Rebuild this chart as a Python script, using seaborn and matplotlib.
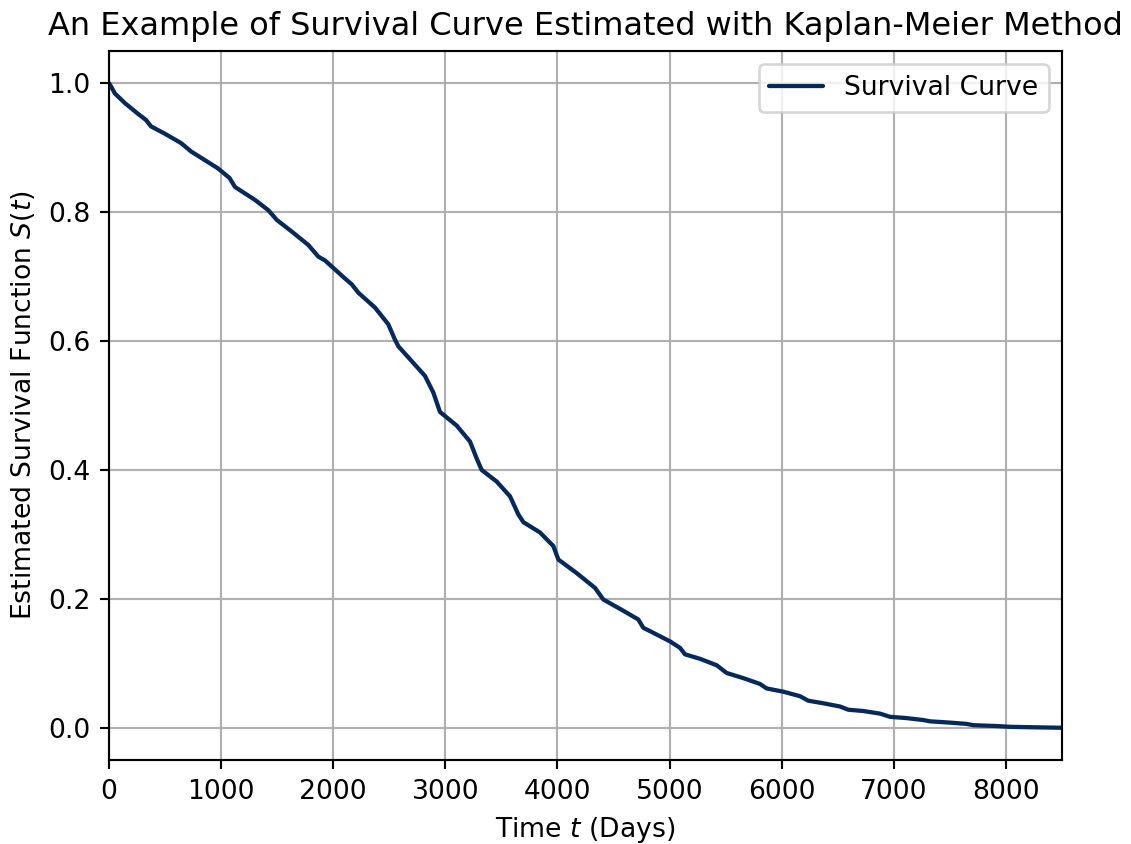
import matplotlib
matplotlib.use("Agg")
import matplotlib.pyplot as plt
import seaborn as sns
import pandas as pd

time_days = [0, 18, 53, 143, 255, 330, 375, 495, 644, 733, 852, 971, 1075, 1124,
             1302, 1421, 1496, 1629, 1778, 1867, 1927, 2105, 2165, 2224, 2372, 2491,
             2551, 2580, 2699, 2818, 2893, 2952, 3100, 3220, 3279, 3324, 3458, 3577,
             3651, 3696, 3844, 3963, 4008, 4171, 4335, 4409, 4573, 4721, 4766, 4825,
             5004, 5093, 5137, 5271, 5420, 5509, 5658, 5806, 5866, 6014, 6163, 6237,
             6371, 6520, 6594, 6728, 6876, 6966, 7114, 7263, 7323, 7501, 7650, 7709,
             7917, 8036, 8241, 8500]
survival = [1.0, 0.995, 0.984, 0.969, 0.953, 0.943, 0.933, 0.922, 0.907, 0.894, 0.881,
            0.868, 0.853, 0.839, 0.819, 0.803, 0.788, 0.770, 0.749, 0.731, 0.725, 0.697,
            0.688, 0.675, 0.652, 0.626, 0.602, 0.592, 0.569, 0.546, 0.520, 0.490, 0.469,
            0.444, 0.418, 0.400, 0.382, 0.359, 0.331, 0.319, 0.303, 0.282, 0.261, 0.240,
            0.217, 0.199, 0.183, 0.168, 0.155, 0.150, 0.134, 0.124, 0.114, 0.107, 0.097,
            0.085, 0.077, 0.068, 0.061, 0.056, 0.049, 0.042, 0.038, 0.033, 0.028, 0.026,
            0.022, 0.017, 0.015, 0.012, 0.010, 0.008, 0.006, 0.004, 0.0027, 0.0015,
            0.0008, 0.0]

df = pd.DataFrame({"t": time_days, "S": survival})

dpi = 192
fig = plt.figure(figsize=(1131 / dpi, 844 / dpi), dpi=dpi)
ax = fig.add_axes([109 / 1131, 1 - 760 / 844, (1062 - 109) / 1131, (760 - 51) / 844])

sns.lineplot(data=df, x="t", y="S", ax=ax, color="#06295b", linewidth=1.6,
             label="Survival Curve", solid_joinstyle="round", solid_capstyle="round")

ax.set_xlim(0, 8500)
ax.set_ylim(-0.05, 1.05)
ax.grid(True, color="#b0b0b0", linewidth=0.8)
ax.set_axisbelow(True)
ax.set_title("An Example of Survival Curve Estimated with Kaplan-Meier Method", fontsize=12)
ax.set_xlabel("Time $t$ (Days)")
ax.set_ylabel("Estimated Survival Function $S(t)$")
ax.legend(loc="upper right")

fig.savefig("out.png", dpi=dpi)
